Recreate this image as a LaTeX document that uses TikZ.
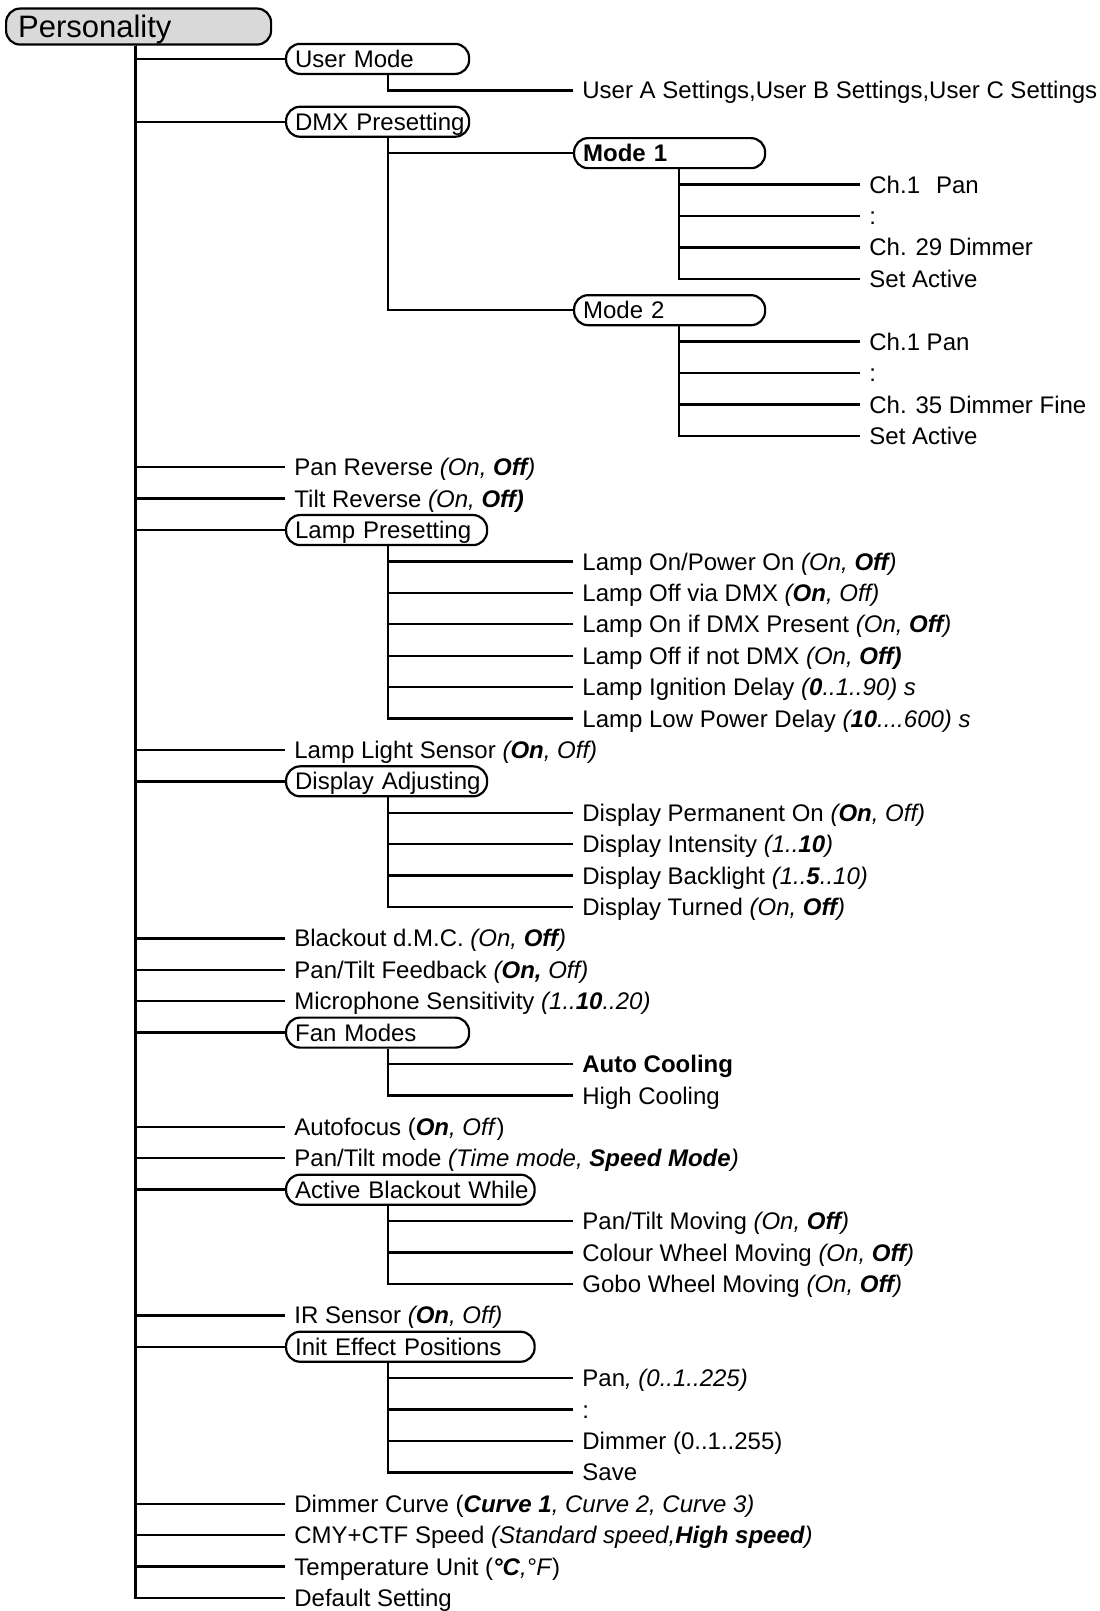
\documentclass[tikz,border=0pt]{standalone}
\usepackage{fontspec}
\setmainfont{Liberation Sans}
\usepackage{tikz}
\tikzstyle{rootbox} = [draw, fill=black!15, rounded corners=7pt, line width=1.1pt, anchor=west, inner xsep=6pt, inner ysep=0pt, minimum height=18pt, text width=120.5pt, text height=11pt, text depth=0pt, font=\fontsize{15.5pt}{18pt}\selectfont]
\tikzstyle{menubox} = [draw, rounded corners=7pt, line width=1.1pt, anchor=west, inner xsep=4.5pt, inner ysep=0pt, minimum height=15pt, text height=8.6pt, text depth=0pt, execute at begin node={\hbox\bgroup}, execute at end node={\egroup}]
\tikzstyle{leaf} = [anchor=west, inner xsep=4.5pt, inner ysep=0pt, text height=8.6pt, text depth=0pt]
\tikzstyle{link} = [draw, line width=1.2pt]

\begin{document}
\begin{tikzpicture}[x=0.5pt, y=-15.705pt, font=\fontsize{12pt}{14pt}\selectfont]
    \useasboundingbox (0,-0.8755) rectangle (1099,50.414);

    \node (personality) [rootbox] at (5,-0.03) {Personality};

    \node (usermode) [menubox, text width=82.5pt] at (285,1) {User Mode};
    \node (useropts) [leaf] at (573,2) {User A Settings,User B Settings,User C Settings};
    \node (dmx) [menubox, text width=82.5pt] at (285,3) {DMX Presetting};
    \node (modeone) [menubox, text width=86.5pt] at (573,4) {\textbf{Mode 1}};
    \node (mAch) [leaf] at (860,5) {Ch.1\hspace{8pt}Pan};
    \node (mAdots) [leaf] at (860,6) {:};
    \node (mAdim) [leaf] at (860,7) {Ch. 29 Dimmer};
    \node (mAset) [leaf] at (860,8) {Set Active};
    \node (modetwo) [menubox, text width=86.5pt] at (573,9) {Mode 2};
    \node (mBch) [leaf] at (860,10) {Ch.1 Pan};
    \node (mBdots) [leaf] at (860,11) {:};
    \node (mBdim) [leaf] at (860,12) {Ch. 35 Dimmer Fine};
    \node (mBset) [leaf] at (860,13) {Set Active};
    \node (panrev) [leaf] at (285,14) {Pan Reverse \textit{(On, \textbf{Off})}};
    \node (tiltrev) [leaf] at (285,15) {Tilt Reverse \textit{(On, \textbf{Off)}}};
    \node (lamp) [menubox, text width=91.5pt] at (285,16) {Lamp Presetting};
    \node (lampon) [leaf] at (573,17) {Lamp On/Power On \textit{(On, \textbf{Off})}};
    \node (lampoff) [leaf] at (573,18) {Lamp Off via DMX \textit{(\textbf{On}, Off)}};
    \node (lampdmx) [leaf] at (573,19) {Lamp On if DMX Present \textit{(On, \textbf{Off})}};
    \node (lampnodmx) [leaf] at (573,20) {Lamp Off if not DMX \textit{(On, \textbf{Off)}}};
    \node (lampign) [leaf] at (573,21) {Lamp Ignition Delay \textit{(\textbf{0}..1..90) s}};
    \node (lamplow) [leaf] at (573,22) {Lamp Low Power Delay \textit{(\textbf{10}....600) s}};
    \node (lampsens) [leaf] at (285,23) {Lamp Light Sensor \textit{(\textbf{On}, Off)}};
    \node (display) [menubox, text width=91.5pt] at (285,24) {Display Adjusting};
    \node (dispperm) [leaf] at (573,25) {Display Permanent On \textit{(\textbf{On}, Off)}};
    \node (dispint) [leaf] at (573,26) {Display Intensity \textit{(1..\textbf{10})}};
    \node (dispback) [leaf] at (573,27) {Display Backlight \textit{(1..\textbf{5}..10)}};
    \node (dispturn) [leaf] at (573,28) {Display Turned \textit{(On, \textbf{Off})}};
    \node (blackout) [leaf] at (285,29) {Blackout d.M.C. \textit{(On, \textbf{Off})}};
    \node (feedback) [leaf] at (285,30) {Pan/Tilt Feedback \textit{(\textbf{On,} Off)}};
    \node (micro) [leaf] at (285,31) {Microphone Sensitivity \textit{(1..\textbf{10}..20)}};
    \node (fan) [menubox, text width=82.5pt] at (285,32) {Fan Modes};
    \node (autocool) [leaf] at (573,33) {\textbf{Auto Cooling}};
    \node (highcool) [leaf] at (573,34) {High Cooling};
    \node (autofocus) [leaf] at (285,35) {Autofocus (\textit{\textbf{On}, Off})};
    \node (ptmode) [leaf] at (285,36) {Pan/Tilt mode \textit{(Time mode, \textbf{Speed Mode})}};
    \node (actblack) [menubox, text width=115.25pt] at (285,37) {Active Blackout While};
    \node (ptmove) [leaf] at (573,38) {Pan/Tilt Moving \textit{(On, \textbf{Off})}};
    \node (colmove) [leaf] at (573,39) {Colour Wheel Moving \textit{(On, \textbf{Off})}};
    \node (gobomove) [leaf] at (573,40) {Gobo Wheel Moving \textit{(On, \textbf{Off})}};
    \node (irsensor) [leaf] at (285,41) {IR Sensor \textit{(\textbf{On}, Off)}};
    \node (init) [menubox, text width=115.25pt] at (285,42) {Init Effect Positions};
    \node (initpan) [leaf] at (573,43) {Pan\textit{, (0..1..225)}};
    \node (initdots) [leaf] at (573,44) {:};
    \node (initdim) [leaf] at (573,45) {Dimmer (0..1..255)};
    \node (initsave) [leaf] at (573,46) {Save};
    \node (dimcurve) [leaf] at (285,47) {Dimmer Curve (\textit{\textbf{Curve 1}, Curve 2, Curve 3)}};
    \node (cmy) [leaf] at (285,48) {CMY+CTF Speed \textit{(Standard speed,\textbf{High speed})}};
    \node (tempunit) [leaf] at (285,49) {Temperature Unit (\textit{\textbf{°C},°F})};
    \node (default) [leaf] at (285,50) {Default Setting};

    % main trunk
    \coordinate (trunk) at ([xshift=65.25pt]personality.south west);
    \draw [link] (trunk) |- (usermode.west);
    \draw [link] (trunk) |- (dmx.west);
    \draw [link] (trunk) |- (panrev.west);
    \draw [link] (trunk) |- (tiltrev.west);
    \draw [link] (trunk) |- (lamp.west);
    \draw [link] (trunk) |- (lampsens.west);
    \draw [link] (trunk) |- (display.west);
    \draw [link] (trunk) |- (blackout.west);
    \draw [link] (trunk) |- (feedback.west);
    \draw [link] (trunk) |- (micro.west);
    \draw [link] (trunk) |- (fan.west);
    \draw [link] (trunk) |- (autofocus.west);
    \draw [link] (trunk) |- (ptmode.west);
    \draw [link] (trunk) |- (actblack.west);
    \draw [link] (trunk) |- (irsensor.west);
    \draw [link] (trunk) |- (init.west);
    \draw [link] (trunk) |- (dimcurve.west);
    \draw [link] (trunk) |- (cmy.west);
    \draw [link] (trunk) |- (tempunit.west);
    \draw [link] (trunk) |- (default.west);

    % sub menus
    \draw [link] ([xshift=51.5pt]usermode.south west) |- (useropts.west);
    \draw [link] ([xshift=51.5pt]dmx.south west) |- (modeone.west);
    \draw [link] ([xshift=51.5pt]dmx.south west) |- (modetwo.west);
    \draw [link] ([xshift=53pt]modeone.south west) |- (mAch.west);
    \draw [link] ([xshift=53pt]modeone.south west) |- (mAdots.west);
    \draw [link] ([xshift=53pt]modeone.south west) |- (mAdim.west);
    \draw [link] ([xshift=53pt]modeone.south west) |- (mAset.west);
    \draw [link] ([xshift=53pt]modetwo.south west) |- (mBch.west);
    \draw [link] ([xshift=53pt]modetwo.south west) |- (mBdots.west);
    \draw [link] ([xshift=53pt]modetwo.south west) |- (mBdim.west);
    \draw [link] ([xshift=53pt]modetwo.south west) |- (mBset.west);
    \draw [link] ([xshift=51.5pt]lamp.south west) |- (lampon.west);
    \draw [link] ([xshift=51.5pt]lamp.south west) |- (lampoff.west);
    \draw [link] ([xshift=51.5pt]lamp.south west) |- (lampdmx.west);
    \draw [link] ([xshift=51.5pt]lamp.south west) |- (lampnodmx.west);
    \draw [link] ([xshift=51.5pt]lamp.south west) |- (lampign.west);
    \draw [link] ([xshift=51.5pt]lamp.south west) |- (lamplow.west);
    \draw [link] ([xshift=51.5pt]display.south west) |- (dispperm.west);
    \draw [link] ([xshift=51.5pt]display.south west) |- (dispint.west);
    \draw [link] ([xshift=51.5pt]display.south west) |- (dispback.west);
    \draw [link] ([xshift=51.5pt]display.south west) |- (dispturn.west);
    \draw [link] ([xshift=51.5pt]fan.south west) |- (autocool.west);
    \draw [link] ([xshift=51.5pt]fan.south west) |- (highcool.west);
    \draw [link] ([xshift=51.5pt]actblack.south west) |- (ptmove.west);
    \draw [link] ([xshift=51.5pt]actblack.south west) |- (colmove.west);
    \draw [link] ([xshift=51.5pt]actblack.south west) |- (gobomove.west);
    \draw [link] ([xshift=51.5pt]init.south west) |- (initpan.west);
    \draw [link] ([xshift=51.5pt]init.south west) |- (initdots.west);
    \draw [link] ([xshift=51.5pt]init.south west) |- (initdim.west);
    \draw [link] ([xshift=51.5pt]init.south west) |- (initsave.west);
\end{tikzpicture}
\end{document}
